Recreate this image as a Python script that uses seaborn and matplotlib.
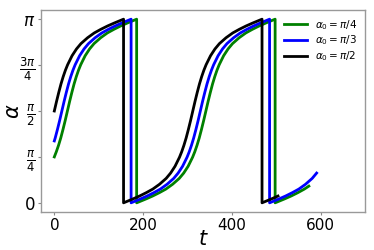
import numpy as np
import pandas as pd
import matplotlib
matplotlib.use("Agg")
import matplotlib.pyplot as plt
import seaborn as sns

# values: alpha in units of pi (vertical drops at the wraps)
labels = [r"$\alpha_0 = \pi/4$", r"$\alpha_0 = \pi/3$", r"$\alpha_0 = \pi/2$"]
colors = ["green", "blue", "black"]

t_green = [0, 4.5, 9.5, 14.5, 19.5, 24.5, 29.5, 34.5, 39.5, 44.5, 49.5, 54.5, 59.5, 69.5, 79.5, 89.5,
           104.5, 119.5, 134.5, 149.5, 164.5, 179.5, 185.5,
           185.5, 191.5, 206.5, 221.5, 236.5, 251.5, 266.5, 281.5, 291.5, 301.5, 311.5, 316.5, 321.5, 326.5,
           331.5, 336.5, 341.5, 346.5, 351.5, 356.5, 361.5, 366.5, 371.5, 381.5, 391.5, 401.5, 416.5, 431.5,
           446.5, 461.5, 476.5, 491.5, 497.5,
           497.5, 503.5, 518.5, 533.5, 548.5, 563.5, 573.5]
a_green = [0.25, 0.278, 0.313, 0.353, 0.399, 0.448, 0.5, 0.552, 0.601, 0.647, 0.687, 0.722, 0.752, 0.801, 0.838, 0.867,
           0.899, 0.925, 0.945, 0.963, 0.979, 0.994, 1.0,
           0.0, 0.006, 0.021, 0.037, 0.055, 0.075, 0.101, 0.133, 0.162, 0.199, 0.248, 0.278, 0.313, 0.353,
           0.399, 0.448, 0.5, 0.552, 0.601, 0.647, 0.687, 0.722, 0.752, 0.801, 0.838, 0.867, 0.899, 0.925,
           0.945, 0.963, 0.979, 0.994, 1.0,
           0.0, 0.006, 0.021, 0.037, 0.055, 0.075, 0.091]

t_blue = [0, 2, 7, 12, 17, 22, 27, 32, 37, 42, 47, 57, 67, 77, 92, 107, 122, 137, 152, 167, 173,
          173, 179, 194, 209, 224, 239, 254, 269, 279, 289, 299, 304, 309, 314, 319, 324, 329, 334, 339,
          344, 349, 354, 359, 369, 379, 389, 404, 419, 434, 449, 464, 479, 485,
          485, 491, 506, 521, 536, 551, 566, 581, 591]
a_blue = [0.337, 0.353, 0.399, 0.448, 0.5, 0.552, 0.601, 0.647, 0.687, 0.722, 0.752, 0.801, 0.838, 0.867,
          0.899, 0.925, 0.945, 0.963, 0.979, 0.994, 1.0,
          0.0, 0.006, 0.021, 0.037, 0.055, 0.075, 0.101, 0.133, 0.162, 0.199, 0.248, 0.278, 0.313, 0.353,
          0.399, 0.448, 0.5, 0.552, 0.601, 0.647, 0.687, 0.722, 0.752, 0.801, 0.838, 0.867, 0.899, 0.925,
          0.945, 0.963, 0.979, 0.994, 1.0,
          0.0, 0.006, 0.021, 0.037, 0.055, 0.075, 0.101, 0.133, 0.162]

t_black = [0, 5, 10, 15, 20, 25, 30, 40, 50, 60, 75, 90, 105, 120, 135, 150, 156,
           156, 162, 177, 192, 207, 222, 237, 252, 262, 272, 282, 287, 292, 297, 302, 307, 312, 317, 322,
           327, 332, 337, 342, 352, 362, 372, 387, 402, 417, 432, 447, 462, 468,
           468, 474, 489, 504]
a_black = [0.5, 0.552, 0.601, 0.647, 0.687, 0.722, 0.752, 0.801, 0.838, 0.867, 0.899, 0.925, 0.945, 0.963,
           0.979, 0.994, 1.0,
           0.0, 0.006, 0.021, 0.037, 0.055, 0.075, 0.101, 0.133, 0.162, 0.199, 0.248, 0.278, 0.313, 0.353,
           0.399, 0.448, 0.5, 0.552, 0.601, 0.647, 0.687, 0.722, 0.752, 0.801, 0.838, 0.867, 0.899, 0.925,
           0.945, 0.963, 0.979, 0.994, 1.0,
           0.0, 0.006, 0.021, 0.037]

yticks_pi = [0, 0.25, 0.5, 0.75, 1.0]
ytick_labels = [r"$0$", r"$\frac{\pi}{4}$", r"$\frac{\pi}{2}$", r"$\frac{3\pi}{4}$", r"$\pi$"]
xticks = [0, 200, 400, 600]

frames = []
for lab, t, a in zip(labels, [t_green, t_blue, t_black], [a_green, a_blue, a_black]):
    df = pd.DataFrame({"t": t, "alpha": np.pi * np.array(a), "series": lab})
    frames.append(df)
data = pd.concat(frames, ignore_index=True)

fig = plt.figure(figsize=(3.74, 2.5), dpi=100)
ax = fig.add_axes([41 / 374, 1 - 212 / 250, (365 - 41) / 374, (212 - 10) / 250])

sns.lineplot(data=data, x="t", y="alpha", hue="series", palette=dict(zip(labels, colors)),
             hue_order=labels, sort=False, estimator=None, units="series", linewidth=2, ax=ax)

ax.set_xlim(-30, 700)
ax.set_ylim(-0.157, np.pi + 0.157)
ax.set_xticks(xticks)
ax.set_xticklabels([str(v) for v in xticks])
ax.set_yticks(np.pi * np.array(yticks_pi))
ax.set_yticklabels(ytick_labels)
ax.tick_params(axis="x", labelsize=11, length=2.5, width=0.8, color="#888888", pad=2)
ax.tick_params(axis="y", labelsize=12, length=2.5, width=0.8, color="#888888", pad=1.5)
for s in ax.spines.values():
    s.set_color("#999999")
    s.set_linewidth(1.0)

ax.set_xlabel(r"$t$", fontsize=15, labelpad=-3)
ax.set_ylabel(r"$\alpha$", fontsize=15, labelpad=-3)

leg = ax.legend(loc="upper right", frameon=False, fontsize=7.5, handlelength=2.2,
                labelspacing=0.2, borderaxespad=0.35)

fig.savefig("out.png", dpi=100)
